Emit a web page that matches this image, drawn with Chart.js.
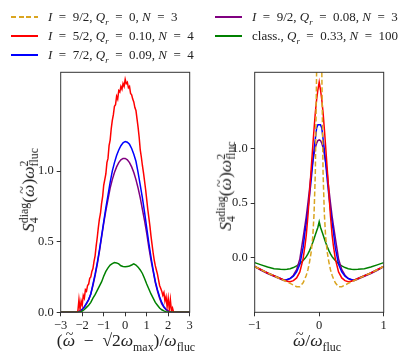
<!DOCTYPE html>
<html>
<head>
<meta charset="utf-8">
<script src="https://cdn.jsdelivr.net/npm/chart.js@4.4.1/dist/chart.umd.min.js"></script>
<style>
  html, body { margin: 0; padding: 0; background: #fff; }
  #page { position: relative; width: 407px; height: 361px; overflow: hidden;
          font-family: "Liberation Serif", "DejaVu Serif", serif; color: #222; }
  .wrap { position: absolute; top: 0; height: 361px; }
  .legend { position: absolute; left: 0; top: 0; font-size: 13px; white-space: nowrap; }
  .legend .row { position: absolute; height: 16px; line-height: 16px; }
  .legend .sw { position: absolute; left: 0; top: 7px; width: 27px; height: 2px; display: block; }
  .legend .tx { position: absolute; left: 37px; top: 0; }
  .title { position: absolute; font-size: 17.5px; white-space: nowrap; line-height: 1; }
  .rot { transform: translate(-50%, -50%) rotate(-90deg); }
  .hor { transform: translate(-50%, -50%); }
  sub, sup { font-size: 68%; line-height: 0; }
  .ss { display: inline-block; vertical-align: -0.35em; line-height: 0.85; font-size: 68%; text-align: left; }
  .ss span { display: block; }
  .tl { position: relative; display: inline-block; }
  .tl::after { content: "~"; position: absolute; left: 0.22em; top: -0.3em; font-size: 0.8em; font-style: normal; line-height: 1; }
</style>
</head>
<body>
<div id="page">
  <div class="wrap" style="left:0;width:200px"><canvas id="left"></canvas></div>
  <div class="wrap" style="left:200px;width:207px"><canvas id="right"></canvas></div>
  <div id="legend" class="legend"></div>
  <div class="title rot" style="left:29px;top:190px"><i>S</i><span class="ss"><span>diag</span><span>4</span></span>(<span class="tl"><i>ω</i></span>)<i>ω</i><span class="ss"><span>2</span><span>fluc</span></span></div>
  <div class="title rot" style="left:226px;top:186px"><i>S</i><span class="ss"><span>adiag</span><span>4</span></span>(<span class="tl"><i>ω</i></span>)<i>ω</i><span class="ss"><span>2</span><span>fluc</span></span></div>
  <div class="title hor" style="left:126px;top:341px">(<span class="tl"><i>ω</i></span>&ensp;−&ensp;√2<i>ω</i><sub>max</sub>)/<i>ω</i><sub>fluc</sub></div>
  <div class="title hor" style="left:317px;top:341px"><span class="tl"><i>ω</i></span>/<i>ω</i><sub>fluc</sub></div>
</div>
<script>
// ---- data: left panel (diagonal part) ----
const leftTicksX = [-3, -2, -1, 0, 1, 2, 3];
const leftTicksY = [0, 0.5, 1.0];

// red I=5/2, fine grid (step 0.05 from -2.35 to 2.35), noisy
const redLeftY = [
  0, 0, 0, 0.01, 0.09, 0.02, 0.08, 0.05, 0.12, 0.10, 0.16, 0.15, 0.19, 0.20, 0.24, 0.25, 0.29, 0.31, 0.36, 0.40,
  0.47, 0.53, 0.60, 0.66, 0.70, 0.77, 0.82, 0.90, 0.94, 0.98, 1.06, 1.09, 1.18, 1.22, 1.30, 1.36, 1.40, 1.46, 1.47, 1.53,
  1.51, 1.57, 1.56, 1.60, 1.58, 1.62, 1.60, 1.65, 1.62, 1.63, 1.59, 1.60, 1.55, 1.54, 1.51, 1.49, 1.45, 1.43, 1.37, 1.31,
  1.24, 1.15, 1.10, 1.04, 0.99, 0.93, 0.87, 0.80, 0.73, 0.67, 0.61, 0.54, 0.48, 0.42, 0.37, 0.33, 0.30, 0.27, 0.23, 0.19,
  0.17, 0.15, 0.12, 0.14, 0.08, 0.11, 0.04, 0.10, 0.02, 0.09, 0.01, 0.03, 0, 0, 0
];

// smooth curves on grid step 0.1 from -2.3 to 2.3
const blueLeftY = [
  0, 0.003, 0.01, 0.02, 0.04, 0.065, 0.09, 0.13, 0.20, 0.27, 0.35, 0.44, 0.54, 0.64, 0.74, 0.83, 0.92, 1.00, 1.06, 1.11,
  1.15, 1.18, 1.20, 1.21, 1.205, 1.19, 1.16, 1.12, 1.07, 0.99, 0.90, 0.81, 0.71, 0.60, 0.49, 0.39, 0.30, 0.22, 0.16, 0.11,
  0.07, 0.04, 0.02, 0.01, 0.003, 0, 0
];
const purpleLeftY = [
  0, 0.003, 0.01, 0.02, 0.035, 0.06, 0.09, 0.13, 0.19, 0.26, 0.34, 0.43, 0.53, 0.63, 0.72, 0.80, 0.88, 0.94, 0.99, 1.03,
  1.06, 1.08, 1.09, 1.09, 1.08, 1.06, 1.03, 0.99, 0.94, 0.88, 0.81, 0.73, 0.65, 0.56, 0.46, 0.37, 0.29, 0.21, 0.15, 0.10,
  0.06, 0.035, 0.02, 0.008, 0.002, 0, 0
];
const greenLeftY = [
  0, 0, 0.002, 0.008, 0.02, 0.035, 0.05, 0.07, 0.10, 0.125, 0.155, 0.185, 0.215, 0.255, 0.29, 0.315, 0.335, 0.345, 0.352, 0.35,
  0.343, 0.33, 0.325, 0.322, 0.325, 0.328, 0.335, 0.343, 0.335, 0.32, 0.30, 0.275, 0.24, 0.20, 0.165, 0.13, 0.10, 0.07, 0.05, 0.03,
  0.018, 0.01, 0.004, 0.001, 0, 0, 0
];

// ---- data: right panel (adiagonal part) ----
const rightTicksX = [-1, 0, 1];
const rightTicksY = [0, 0.5, 1.0];
const rightX = [
  -1, -0.9, -0.8, -0.7, -0.6, -0.54, -0.5, -0.45, -0.4, -0.35, -0.3, -0.25, -0.22, -0.2, -0.175, -0.15, -0.125, -0.1, -0.08, -0.06, -0.04, -0.02,
  0,
  0.02, 0.04, 0.06, 0.08, 0.1, 0.125, 0.15, 0.175, 0.2, 0.22, 0.25, 0.3, 0.35, 0.4, 0.45, 0.5, 0.54, 0.6, 0.7, 0.8, 0.9, 1
];
const orangeRightY = [
  -0.08, -0.11, -0.14, -0.165, -0.195, -0.21, -0.22, -0.235, -0.25, -0.265, -0.265, -0.23, -0.19, -0.16, -0.11, -0.04, 0.05, 0.19, 0.40, 0.78, 1.72, 2.7,
  3.4,
  2.7, 1.72, 0.78, 0.40, 0.19, 0.05, -0.04, -0.11, -0.16, -0.19, -0.23, -0.265, -0.265, -0.25, -0.235, -0.22, -0.21, -0.195, -0.165, -0.14, -0.11, -0.08
];
const redRightY = [
  -0.08, -0.11, -0.14, -0.165, -0.19, -0.205, -0.215, -0.22, -0.21, -0.185, -0.13, -0.01, 0.11, 0.21, 0.38, 0.59, 0.81, 1.02, 1.18, 1.33, 1.45, 1.54,
  1.61,
  1.54, 1.45, 1.33, 1.18, 1.02, 0.81, 0.59, 0.38, 0.21, 0.11, -0.01, -0.13, -0.185, -0.21, -0.22, -0.215, -0.205, -0.19, -0.165, -0.14, -0.11, -0.08
];
const blueRightY = [
  -0.08, -0.11, -0.14, -0.165, -0.19, -0.205, -0.20, -0.19, -0.17, -0.13, -0.06, 0.09, 0.24, 0.32, 0.44, 0.57, 0.71, 0.87, 0.99, 1.09, 1.19, 1.22,
  1.22,
  1.22, 1.19, 1.09, 0.99, 0.87, 0.71, 0.57, 0.44, 0.32, 0.24, 0.09, -0.06, -0.13, -0.17, -0.19, -0.20, -0.205, -0.19, -0.165, -0.14, -0.11, -0.08
];
const purpleRightY = [
  -0.08, -0.115, -0.145, -0.17, -0.195, -0.21, -0.205, -0.19, -0.16, -0.11, -0.01, 0.18, 0.30, 0.38, 0.50, 0.63, 0.77, 0.88, 0.95, 1.01, 1.05, 1.075,
  1.08,
  1.075, 1.05, 1.01, 0.95, 0.88, 0.77, 0.63, 0.50, 0.38, 0.30, 0.18, -0.01, -0.11, -0.16, -0.19, -0.205, -0.21, -0.195, -0.17, -0.145, -0.115, -0.08
];
const greenRightY = [
  -0.045, -0.065, -0.085, -0.10, -0.106, -0.108, -0.105, -0.10, -0.09, -0.075, -0.055, -0.025, -0.005, 0.01, 0.035, 0.065, 0.10, 0.14, 0.175, 0.21, 0.245, 0.28,
  0.33,
  0.28, 0.245, 0.21, 0.175, 0.14, 0.10, 0.065, 0.035, 0.01, -0.005, -0.025, -0.055, -0.075, -0.09, -0.10, -0.105, -0.108, -0.106, -0.10, -0.085, -0.065, -0.045
];

const seriesLabels = [
  '<i>I</i>&ensp;=&ensp;9/2, <i>Q</i><sub><i>r</i></sub>&ensp;=&ensp;0, <i>N</i>&ensp;=&ensp;3',
  '<i>I</i>&ensp;=&ensp;5/2, <i>Q</i><sub><i>r</i></sub>&ensp;=&ensp;0.10, <i>N</i>&ensp;=&ensp;4',
  '<i>I</i>&ensp;=&ensp;7/2, <i>Q</i><sub><i>r</i></sub>&ensp;=&ensp;0.09, <i>N</i>&ensp;=&ensp;4',
  '<i>I</i>&ensp;=&ensp;9/2, <i>Q</i><sub><i>r</i></sub>&ensp;=&ensp;0.08, <i>N</i>&ensp;=&ensp;3',
  'class., <i>Q</i><sub><i>r</i></sub>&ensp;=&ensp;0.33, <i>N</i>&ensp;=&ensp;100'
];
const seriesColors = ['#daa520', '#ff0000', '#0000ff', '#800080', '#008000'];

// grids for the left panel
const fineGrid = redLeftY.map((_, i) => Math.round((-2.35 + i * 0.05) * 100) / 100);
const coarseGrid = blueLeftY.map((_, i) => Math.round((-2.3 + i * 0.1) * 100) / 100);

function pts(xs, ys) { return xs.map((x, i) => ({ x: x, y: ys[i] })) }
function withTails(arr, lo, hi) { return [{ x: lo, y: 0 }, ...arr, { x: hi, y: 0 }] }

// legend
const legendPos = [[11, 9], [11, 28], [11, 47], [215, 9], [215, 28]];
const legendEl = document.getElementById('legend');
seriesLabels.forEach((lab, i) => {
  const row = document.createElement('div');
  row.className = 'row';
  row.style.left = legendPos[i][0] + 'px';
  row.style.top = legendPos[i][1] + 'px';
  const sw = document.createElement('div');
  sw.className = 'sw';
  if (i === 0) {
    sw.style.backgroundImage = `repeating-linear-gradient(to right, ${seriesColors[i]} 0px, ${seriesColors[i]} 5px, rgba(255,255,255,0) 5px, rgba(255,255,255,0) 7.5px)`;
  } else {
    sw.style.backgroundColor = seriesColors[i];
  }
  const tx = document.createElement('span');
  tx.className = 'tx';
  tx.innerHTML = lab;
  row.appendChild(sw);
  row.appendChild(tx);
  legendEl.appendChild(row);
});

const frame = {
  id: 'frame',
  afterDatasetsDraw(chart) {
    const a = chart.chartArea, ctx = chart.ctx;
    ctx.save();
    ctx.strokeStyle = '#333';
    ctx.lineWidth = 1;
    ctx.strokeRect(a.left, a.top, a.right - a.left, a.bottom - a.top);
    ctx.restore();
  }
};

const tickFont = { family: '"Liberation Serif", "DejaVu Serif", serif', size: 12.5 };
const minus = v => String(v).replace('-', '\u2212');

function makeOptions(cfg) {
  return {
    responsive: true,
    maintainAspectRatio: false,
    animation: false,
    layout: { padding: { left: 0, right: cfg.padRight, top: 72.3, bottom: 0 } },
    plugins: { legend: { display: false }, tooltip: { enabled: false } },
    elements: { point: { radius: 0 }, line: { tension: 0, borderWidth: 1.5 } },
    scales: {
      x: {
        type: 'linear', min: cfg.xmin, max: cfg.xmax,
        afterFit: s => { s.height = 48.7 },
        afterBuildTicks: s => { s.ticks = cfg.xticks.map(v => ({ value: v })) },
        grid: { drawOnChartArea: false, drawTicks: true, tickLength: 4, tickColor: '#333' },
        border: { display: false },
        ticks: { font: tickFont, color: '#222', padding: 2, maxRotation: 0, callback: v => minus(v) }
      },
      y: {
        type: 'linear', min: cfg.ymin, max: cfg.ymax,
        afterFit: s => { s.width = cfg.yWidth },
        afterBuildTicks: s => { s.ticks = cfg.yticks.map(v => ({ value: v })) },
        grid: { drawOnChartArea: false, drawTicks: true, tickLength: 4, tickColor: '#333' },
        border: { display: false },
        ticks: { font: tickFont, color: '#222', padding: 3, callback: v => minus(Number(v).toFixed(1)) }
      }
    }
  };
}

function ds(data, i) {
  return {
    label: seriesLabels[i], data: data, borderColor: seriesColors[i],
    borderDash: i === 0 ? [5, 2.5] : [], borderWidth: 1.5, fill: false
  };
}

new Chart(document.getElementById('left'), {
  type: 'line',
  data: {
    datasets: [
      ds(withTails(pts(coarseGrid, greenLeftY), -3, 3), 4),
      ds(withTails(pts(fineGrid, redLeftY), -3, 3), 1),
      ds(withTails(pts(coarseGrid, blueLeftY), -3, 3), 2),
      ds(withTails(pts(coarseGrid, purpleLeftY), -3, 3), 3)
    ]
  },
  options: makeOptions({ xmin: -3, xmax: 3, ymin: 0, ymax: 1.70, xticks: leftTicksX, yticks: leftTicksY, yWidth: 60.7, padRight: 10.3 }),
  plugins: [frame]
});

new Chart(document.getElementById('right'), {
  type: 'line',
  data: {
    datasets: [
      ds(pts(rightX, orangeRightY), 0),
      ds(pts(rightX, redRightY), 1),
      ds(pts(rightX, blueRightY), 2),
      ds(pts(rightX, purpleRightY), 3),
      ds(pts(rightX, greenRightY), 4)
    ]
  },
  options: makeOptions({ xmin: -1, xmax: 1, ymin: -0.5, ymax: 1.70, xticks: rightTicksX, yticks: rightTicksY, yWidth: 54.7, padRight: 23.3 }),
  plugins: [frame]
});
</script>
</body>
</html>
